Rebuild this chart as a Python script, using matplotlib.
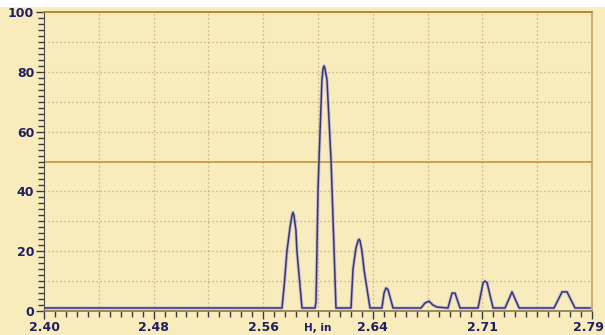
import numpy as np
import matplotlib
matplotlib.use("Agg")
import matplotlib.pyplot as plt
from matplotlib.patches import Rectangle
from matplotlib.ticker import MultipleLocator, FixedLocator
from matplotlib.transforms import ScaledTranslation

# Data
h_in = [2.4000, 2.5694, 2.5712, 2.5729, 2.5751, 2.5765, 2.5772, 2.5779, 2.5793, 2.5800, 2.5836,
        2.5929, 2.5936, 2.5950, 2.5957, 2.5978, 2.5986, 2.5993, 2.6000, 2.6014, 2.6043, 2.6050, 2.6078,
        2.6185, 2.6199, 2.6220, 2.6235, 2.6242, 2.6249, 2.6263, 2.6277, 2.6320,
        2.6405, 2.6420, 2.6434, 2.6448, 2.6484,
        2.6683, 2.6712, 2.6740, 2.6768, 2.6797, 2.6875,
        2.6904, 2.6925, 2.6961,
        2.7089, 2.7125, 2.7139, 2.7153, 2.7196,
        2.7281, 2.7331, 2.7381,
        2.7630, 2.7651, 2.7687, 2.7722, 2.7779, 2.7886]
signal = [1, 1, 10, 20, 28, 32, 33, 32, 27, 20, 1,
          1, 3, 40.5, 50.2, 77.3, 81, 82, 81, 77.3, 50.2, 40.5, 1,
          1, 14, 21, 23.5, 24, 23.5, 20, 14, 1,
          1, 6, 7.7, 7.2, 1,
          1, 2.7, 3.3, 2, 1.3, 1,
          6, 6, 1,
          1, 9.5, 10, 9.5, 1,
          1, 6.4, 1,
          1, 3, 6.4, 6.4, 1, 1]
x_tick_labels = ['2.40', '2.48', '2.56', '2.64', '2.71', '2.79']
y_tick_values = [0, 20, 40, 60, 80, 100]
x_label = "H, in"
ref_level = 50

BG = '#F8EBBC'
GRID = '#C4A66E'
LINE = '#35357F'
TXT = '#1E2060'

fig = plt.figure(figsize=(6.05, 3.35), dpi=100, facecolor=BG)
fig.patches.append(Rectangle((0, 0.978), 1, 0.022, transform=fig.transFigure,
                             facecolor='white', edgecolor='none', zorder=0))
ax = fig.add_axes([44/605, 24/335, 548/605, 299/335])
ax.set_facecolor(BG)
xmin, xmax = 2.40, 2.79
ax.set_xlim(xmin, xmax)
ax.set_ylim(0, 100)

# grid
for gx in np.linspace(xmin, xmax, 11)[1:-1]:
    ax.axvline(gx, color=GRID, lw=0.9, ls=(0, (1, 2.2)), zorder=1)
for gy in range(10, 100, 10):
    if gy != ref_level:
        ax.axhline(gy, color=GRID, lw=0.9, ls=(0, (1, 2.2)), zorder=1)
ax.axhline(ref_level, color='#C99A45', lw=1.3, zorder=2)

# halo + line
ax.plot(h_in, signal, color='#A49AD0', lw=2.4, alpha=0.55, zorder=3, solid_joinstyle='round')
ax.plot(h_in, signal, color=LINE, lw=1.1, zorder=4, solid_joinstyle='round')

# ticks
ax.xaxis.set_major_locator(FixedLocator(np.linspace(xmin, xmax, 6)))
ax.set_xticklabels(x_tick_labels)
ax.xaxis.set_minor_locator(FixedLocator(np.linspace(xmin, xmax, 51)))
ax.yaxis.set_major_locator(FixedLocator(y_tick_values))
ax.set_yticklabels([str(v) for v in y_tick_values])
ax.yaxis.set_minor_locator(MultipleLocator(2))
ax.tick_params(axis='both', which='major', length=6, width=1.0, color='#3A3A3A',
               labelsize=9, labelcolor=TXT, pad=1)
ax.tick_params(axis='both', which='minor', length=4, width=1.0, color='#3A3A3A')
for lab in ax.get_xticklabels() + ax.get_yticklabels():
    lab.set_fontweight('bold')
    lab.set_family('DejaVu Sans')
last = ax.get_xticklabels()[-1]
last.set_horizontalalignment('right')
last.set_transform(last.get_transform() + ScaledTranslation(0.12, 0, fig.dpi_scale_trans))

ax.text(0.5, -0.04, x_label, transform=ax.transAxes, ha='center', va='top',
        fontsize=7.5, fontweight='bold', color=TXT)

ax.spines['top'].set_color('#B48630')
ax.spines['top'].set_linewidth(1.4)
ax.spines['right'].set_color('#C9A060')
ax.spines['right'].set_linewidth(1.2)
ax.spines['left'].set_color('#4A4A4A')
ax.spines['bottom'].set_color('#8A7A50')
ax.spines['bottom'].set_linewidth(1.2)

fig.savefig('out.png', dpi=100, facecolor=BG)
